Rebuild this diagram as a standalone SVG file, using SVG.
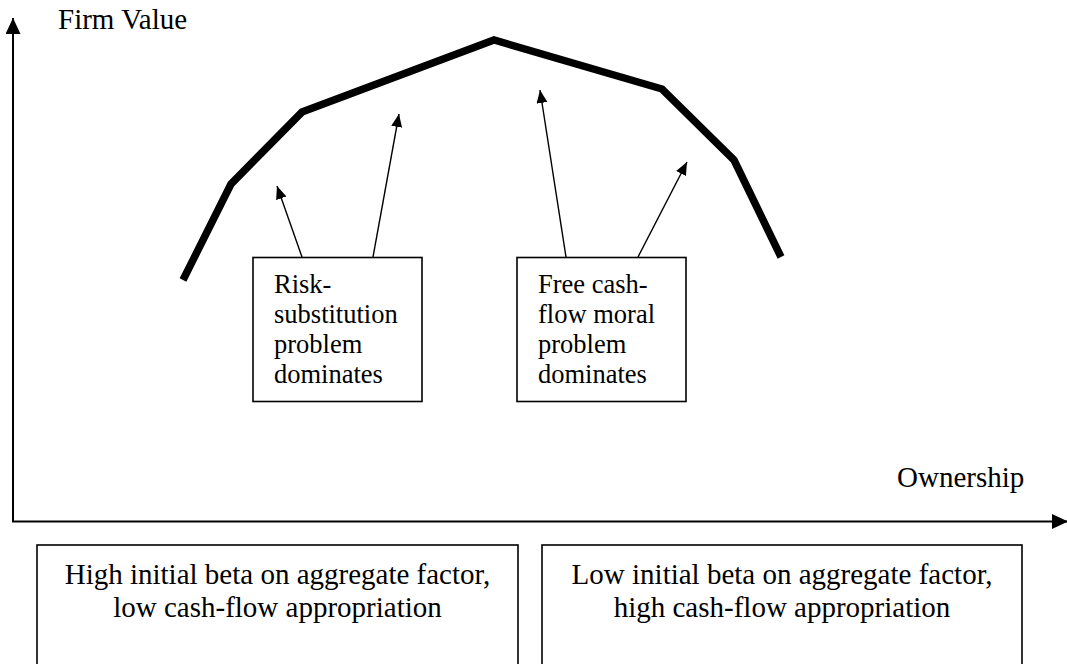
<svg xmlns="http://www.w3.org/2000/svg" width="1067" height="664" viewBox="0 0 1067 664">
<style>
  .lbl { font-family: "Liberation Serif", "Times New Roman", serif; font-size: 29px; fill: #000; }
  .box { fill: #fff; stroke: #000; stroke-width: 1.6; }
  .btxt { font-family: "Liberation Serif", "Times New Roman", serif; font-size: 26.5px; fill: #000; }
  .axis { stroke: #000; stroke-width: 2; fill: none; }
  .thin { stroke: #000; stroke-width: 1.4; fill: none; }
  .curve { stroke: #000; stroke-width: 7.5; fill: none; stroke-linejoin: miter; }
</style>
<defs>
  <marker id="axhead" markerUnits="userSpaceOnUse" markerWidth="18" markerHeight="16" refX="16" refY="7.5" orient="auto">
    <path d="M0,0 L16,7.5 L0,15 Z" fill="#000"/>
  </marker>
  <marker id="arr" markerUnits="userSpaceOnUse" markerWidth="14" markerHeight="12" refX="13" refY="5.5" orient="auto">
    <path d="M0,0 L13,5.5 L0,11 Z" fill="#000"/>
  </marker>
</defs>
<rect width="1067" height="664" fill="#fff"/>

<g id="axes">
  <line class="axis" x1="13" y1="522" x2="13" y2="18" marker-end="url(#axhead)"/>
  <line class="axis" x1="12" y1="521.5" x2="1068" y2="521.5" marker-end="url(#axhead)"/>
  <text class="lbl" x="58" y="29">Firm Value</text>
  <text class="lbl" x="897" y="487">Ownership</text>
</g>

<g id="curve">
  <polyline class="curve" points="183,280 231,184 302,112 494,40 662,89 734,160 781,257"/>
</g>

<g id="connectors">
  <line class="thin" x1="302" y1="257" x2="277" y2="186" marker-end="url(#arr)"/>
  <line class="thin" x1="373" y1="257" x2="399" y2="114" marker-end="url(#arr)"/>
  <line class="thin" x1="566" y1="257" x2="540" y2="90" marker-end="url(#arr)"/>
  <line class="thin" x1="638" y1="257" x2="687" y2="162" marker-end="url(#arr)"/>
</g>

<g id="node-risk">
  <rect class="box" x="253" y="257.5" width="169" height="144"/>
  <text class="btxt" x="274" y="293">Risk-</text>
  <text class="btxt" x="274" y="323">substitution</text>
  <text class="btxt" x="274" y="353">problem</text>
  <text class="btxt" x="274" y="383">dominates</text>
</g>

<g id="node-fcf">
  <rect class="box" x="517" y="257.5" width="169" height="144"/>
  <text class="btxt" x="538" y="293">Free cash-</text>
  <text class="btxt" x="538" y="323">flow moral</text>
  <text class="btxt" x="538" y="353">problem</text>
  <text class="btxt" x="538" y="383">dominates</text>
</g>

<g id="node-high">
  <rect class="box" x="37" y="545" width="481" height="140"/>
  <text class="lbl" x="277.5" y="584" text-anchor="middle">High initial beta on aggregate factor,</text>
  <text class="lbl" x="277.5" y="617" text-anchor="middle">low cash-flow appropriation</text>
</g>

<g id="node-low">
  <rect class="box" x="542" y="545" width="480" height="140"/>
  <text class="lbl" x="782" y="584" text-anchor="middle">Low initial beta on aggregate factor,</text>
  <text class="lbl" x="782" y="617" text-anchor="middle">high cash-flow appropriation</text>
</g>
</svg>
